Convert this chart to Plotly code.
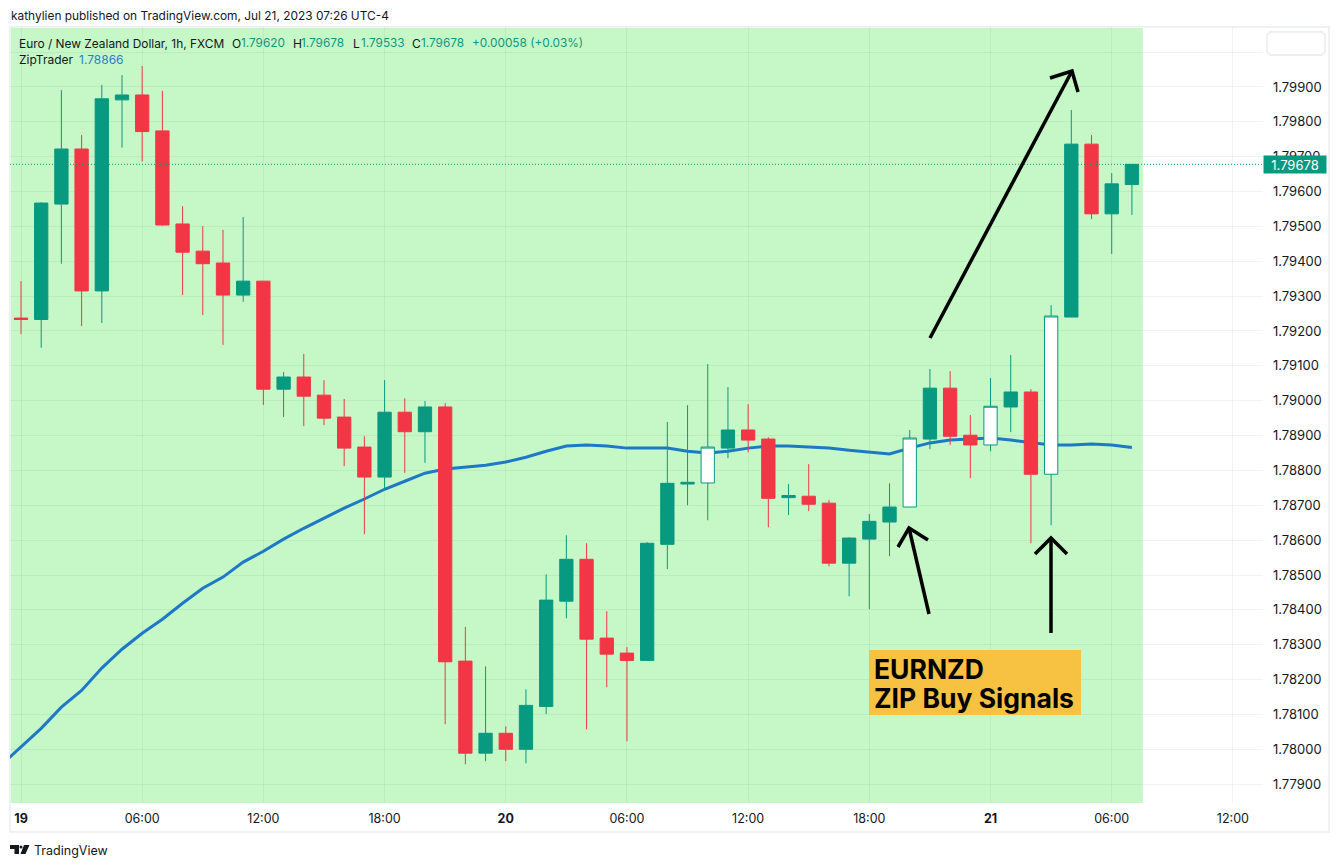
import plotly.graph_objects as go
import pandas as pd

WIDTH, HEIGHT = 1339, 867
FONT = "Inter"
GREEN = "#089981"
RED = "#F23645"
BLUE = "#1E78C8"
INK = "#131722"

# hourly EURNZD bars, starting 19 Jul 00:00
opens = [1.79237, 1.79233, 1.79564, 1.79722, 1.79315, 1.79863, 1.79877, 1.79774, 1.79507, 1.79429,
         1.79395, 1.79303, 1.79343, 1.79033, 1.79068, 1.79016, 1.78953, 1.78867, 1.78781, 1.78967,
         1.78911, 1.78982, 1.78253, 1.77989, 1.78046, 1.78000, 1.78123, 1.78425, 1.78545, 1.78319,
         1.78276, 1.78255, 1.78588, 1.78761, 1.78764, 1.78864, 1.78916, 1.78890, 1.78722, 1.78726,
         1.78706, 1.78534, 1.78603, 1.78652, 1.78695, 1.78890, 1.79036, 1.78901, 1.78873, 1.78982,
         1.79025, 1.78789, 1.79240, 1.79736, 1.79536, 1.79620]
highs = [1.79343, 1.79569, 1.79891, 1.79762, 1.79906, 1.79934, 1.79960, 1.79889, 1.79558, 1.79501,
         1.79490, 1.79527, 1.79343, 1.79082, 1.79134, 1.79059, 1.79005, 1.78898, 1.79059, 1.79007,
         1.78999, 1.78993, 1.78351, 1.78238, 1.78066, 1.78172, 1.78502, 1.78614, 1.78591, 1.78396,
         1.78293, 1.78594, 1.78939, 1.78987, 1.79105, 1.79039, 1.78990, 1.78895, 1.78761, 1.78818,
         1.78715, 1.78608, 1.78675, 1.78763, 1.78916, 1.79091, 1.79085, 1.78959, 1.79065, 1.79131,
         1.79033, 1.79274, 1.79834, 1.79762, 1.79653, 1.79678]
lows = [1.79191, 1.79152, 1.79393, 1.79214, 1.79223, 1.79726, 1.79686, 1.79502, 1.79303, 1.79246,
        1.79160, 1.79284, 1.78988, 1.78953, 1.78927, 1.78930, 1.78812, 1.78617, 1.78743, 1.78793,
        1.78822, 1.78072, 1.77957, 1.77966, 1.77966, 1.77960, 1.78101, 1.78376, 1.78057, 1.78178,
        1.78023, 1.78255, 1.78517, 1.78700, 1.78657, 1.78835, 1.78852, 1.78637, 1.78672, 1.78683,
        1.78525, 1.78439, 1.78402, 1.78554, 1.78695, 1.78861, 1.78873, 1.78778, 1.78855, 1.78910,
        1.78591, 1.78643, 1.79240, 1.79521, 1.79421, 1.79533]
closes = [1.79233, 1.79567, 1.79722, 1.79315, 1.79866, 1.79877, 1.79772, 1.79504, 1.79426, 1.79393,
          1.79303, 1.79343, 1.79033, 1.79068, 1.79013, 1.78950, 1.78864, 1.78781, 1.78967, 1.78911,
          1.78982, 1.78251, 1.77989, 1.78046, 1.78000, 1.78126, 1.78428, 1.78545, 1.78316, 1.78273,
          1.78255, 1.78591, 1.78763, 1.78766, 1.78867, 1.78916, 1.78887, 1.78720, 1.78728, 1.78703,
          1.78534, 1.78606, 1.78654, 1.78695, 1.78893, 1.79036, 1.78898, 1.78873, 1.78984, 1.79025,
          1.78789, 1.79243, 1.79736, 1.79536, 1.79622, 1.79678]
# bars the indicator painted white (ZIP buy signals)
signal_bars = [34, 44, 48, 51]

# ZipTrader line, first value is the hour before the first bar
zip_line = [1.77954, 1.78007, 1.78060, 1.78121, 1.78169, 1.78233, 1.78287, 1.78333, 1.78373, 1.78419,
            1.78462, 1.78494, 1.78537, 1.78568, 1.78603, 1.78634, 1.78663, 1.78692, 1.78718, 1.78746,
            1.78769, 1.78792, 1.78804, 1.78809, 1.78815, 1.78824, 1.78838, 1.78855, 1.78870, 1.78873,
            1.78870, 1.78864, 1.78864, 1.78864, 1.78855, 1.78850, 1.78855, 1.78864, 1.78870, 1.78870,
            1.78867, 1.78864, 1.78858, 1.78852, 1.78847, 1.78864, 1.78879, 1.78887, 1.78891, 1.78893,
            1.78887, 1.78879, 1.78873, 1.78873, 1.78876, 1.78873, 1.78866]

price_ticks = [1.779, 1.780, 1.781, 1.782, 1.783, 1.784, 1.785, 1.786, 1.787, 1.788, 1.789,
               1.790, 1.791, 1.792, 1.793, 1.794, 1.795, 1.796, 1.797, 1.798, 1.799, 1.800]
# the top label sits behind the chart's button, so it stays blank
price_labels = [f"{v:.5f}" for v in price_ticks[:-1]] + [""]
time_labels = ["<b>19</b>", "06:00", "12:00", "18:00", "<b>20</b>", "06:00", "12:00", "18:00",
               "<b>21</b>", "06:00", "12:00"]


def at_hour(h):
    return pd.Timestamp("2023-07-19") + pd.Timedelta(hours=h)


def px(x):
    return x / WIDTH


def py(y):
    return 1 - y / HEIGHT


def pixel_path(points):
    return "M" + " L".join(f"{px(x):.5f},{py(y):.5f}" for x, y in points)


times = [at_hour(i) for i in range(len(opens))]
line_times = [at_hour(i - 1) for i in range(len(zip_line))]
x_range = [at_hour(-0.545), at_hour(61.49)]
y_range = [1.77846, 1.80072]


def pick(values, keep):
    return [v if keep(i) else None for i, v in enumerate(values)]


fig = go.Figure()

# line sits on the base axes so the candles on the overlay cover it
fig.add_trace(go.Scatter(x=line_times, y=zip_line, mode="lines", line=dict(color=BLUE, width=3),
                         hoverinfo="skip", showlegend=False))

normal = lambda i: i not in signal_bars
signal = lambda i: i in signal_bars
fig.add_trace(go.Candlestick(
    x=times, open=pick(opens, normal), high=pick(highs, normal), low=pick(lows, normal),
    close=pick(closes, normal), xaxis="x2", yaxis="y2", showlegend=False,
    increasing=dict(line=dict(color=GREEN, width=1), fillcolor=GREEN),
    decreasing=dict(line=dict(color=RED, width=1), fillcolor=RED)))
fig.add_trace(go.Candlestick(
    x=times, open=pick(opens, signal), high=pick(highs, signal), low=pick(lows, signal),
    close=pick(closes, signal), xaxis="x2", yaxis="y2", showlegend=False,
    increasing=dict(line=dict(color=GREEN, width=1), fillcolor="white"),
    decreasing=dict(line=dict(color=GREEN, width=1), fillcolor="white")))

shapes = [
    # green session background
    dict(type="rect", xref="x", yref="paper", x0=x_range[0], x1=at_hour(55.54), y0=py(803), y1=py(27),
         fillcolor="#C6F7C6", line=dict(width=0), layer="below"),
    # outer frame
    dict(type="rect", xref="paper", yref="paper", x0=px(10), x1=px(1329), y0=py(832), y1=py(27),
         line=dict(color="#EFF1F5", width=2), layer="below"),
    # empty button on the price axis
    dict(type="path", xref="paper", yref="paper", fillcolor="white", line=dict(color="#EEF0F4", width=2),
         path=pixel_path([(1270, 32), (1322, 32), (1325, 35), (1325, 52), (1322, 55), (1270, 55),
                          (1267, 52), (1267, 35)]) + " Z"),
    # last price line
    dict(type="line", xref="x", yref="y", x0=x_range[0], x1=x_range[1], y0=closes[-1], y1=closes[-1],
         line=dict(color=GREEN, width=1, dash="1px,2px")),
    # yellow label box
    dict(type="rect", xref="paper", yref="paper", x0=px(869), x1=px(1081), y0=py(715), y1=py(650),
         fillcolor="#F7C142", line=dict(width=0)),
    # TradingView logo
    dict(type="path", xref="paper", yref="paper", fillcolor="#131722", line=dict(width=0),
         path=pixel_path([(10, 845), (19, 845), (19, 854), (14.5, 854), (14.5, 849), (10, 849)]) + " Z"),
    dict(type="circle", xref="paper", yref="paper", x0=px(19.5), x1=px(22.5), y0=py(848.5), y1=py(845.5),
         fillcolor="#131722", line=dict(width=0)),
    dict(type="path", xref="paper", yref="paper", fillcolor="#131722", line=dict(width=0),
         path=pixel_path([(24, 845), (29.5, 845), (25.5, 854), (20.5, 854)]) + " Z"),
]

# hand drawn arrows
arrows = [
    [(930, 338), (1072, 71)], [(1050, 78), (1072, 71), (1078, 92)],
    [(929, 614), (909, 528)], [(898, 547), (909, 528), (928, 540)],
    [(1051, 633), (1051, 538)], [(1035, 554), (1051, 538), (1067, 554)],
]
for points in arrows:
    shapes.append(dict(type="path", xref="paper", yref="paper", path=pixel_path(points),
                       line=dict(color="black", width=3.5)))

# text pieces: text, left edge, vertical centre, colour, size
texts = [
    ("kathylien published on TradingView.com, Jul 21, 2023 07:26 UTC-4", 10, 15, INK, 11.9),
    ("Euro / New Zealand Dollar, 1h, FXCM", 18, 43, INK, 11.9),
    ("O", 231, 43, INK, 12), (f"{opens[-1]:.5f}", 240, 43, GREEN, 11.8),
    ("H", 292, 43, INK, 12), (f"{highs[-1]:.5f}", 300, 43, GREEN, 11.8),
    ("L", 352, 43, INK, 12), (f"{lows[-1]:.5f}", 360, 43, GREEN, 11.8),
    ("C", 411, 43, INK, 12), (f"{closes[-1]:.5f}", 420, 43, GREEN, 11.8),
    ("+0.00058 (+0.03%)", 471, 43, GREEN, 11.8),
    ("ZipTrader", 18, 60, INK, 12), (f"{zip_line[-1]:.5f}", 78, 60, "#2B7DC8", 12),
    ("<b>EURNZD</b>", 873, 669, "black", 26.5), ("<b>ZIP Buy Signals</b>", 873, 698, "black", 26.5),
    ("TradingView", 33, 850, INK, 12.5),
]
annotations = [dict(text=t, x=px(x), y=py(y), xref="paper", yref="paper", xanchor="left", yanchor="middle",
                    showarrow=False, font=dict(family=FONT, size=size, color=color), borderpad=0)
               for t, x, y, color, size in texts]
# last price tag
annotations.append(dict(text=f"{closes[-1]:.5f}", x=px(1263), y=closes[-1], xref="paper", yref="y",
                        xanchor="left", yanchor="middle", showarrow=False, bgcolor=GREEN, width=62, height=17,
                        borderpad=0, align="center", font=dict(family=FONT, size=13, color="white")))

grid = "rgba(42,46,57,0.06)"
fig.update_layout(
    width=WIDTH, height=HEIGHT, autosize=False, margin=dict(l=0, r=0, t=0, b=0),
    paper_bgcolor="white", plot_bgcolor="white", showlegend=False,
    font=dict(family=FONT, color=INK), boxgap=0.06,
    shapes=shapes, annotations=annotations,
    xaxis=dict(type="date", domain=[px(10), px(1263)], range=x_range, tickmode="array",
               tickvals=[at_hour(6 * i) for i in range(len(time_labels))], ticktext=time_labels,
               ticks="", showline=False, gridcolor=grid, gridwidth=1, zeroline=False,
               rangeslider=dict(visible=False), tickangle=0, ticklabelstandoff=6,
               tickfont=dict(family=FONT, size=12.5, color=INK),
               anchor="y"),
    yaxis=dict(domain=[py(803), py(27)], range=y_range, side="right", tickmode="array", tickvals=price_ticks,
               ticktext=price_labels, ticks="", showline=False, gridcolor=grid, gridwidth=1, zeroline=False,
               ticklabelstandoff=9, tickfont=dict(family=FONT, size=13, color=INK), anchor="x"),
    xaxis2=dict(type="date", overlaying="x", range=x_range, visible=False, rangeslider=dict(visible=False),
                anchor="y2"),
    yaxis2=dict(overlaying="y", range=y_range, visible=False, anchor="x2"),
)

fig.write_html("out.html", config=dict(displayModeBar=False),
               post_script="document.body.style.margin='0';document.body.style.overflow='hidden';")
